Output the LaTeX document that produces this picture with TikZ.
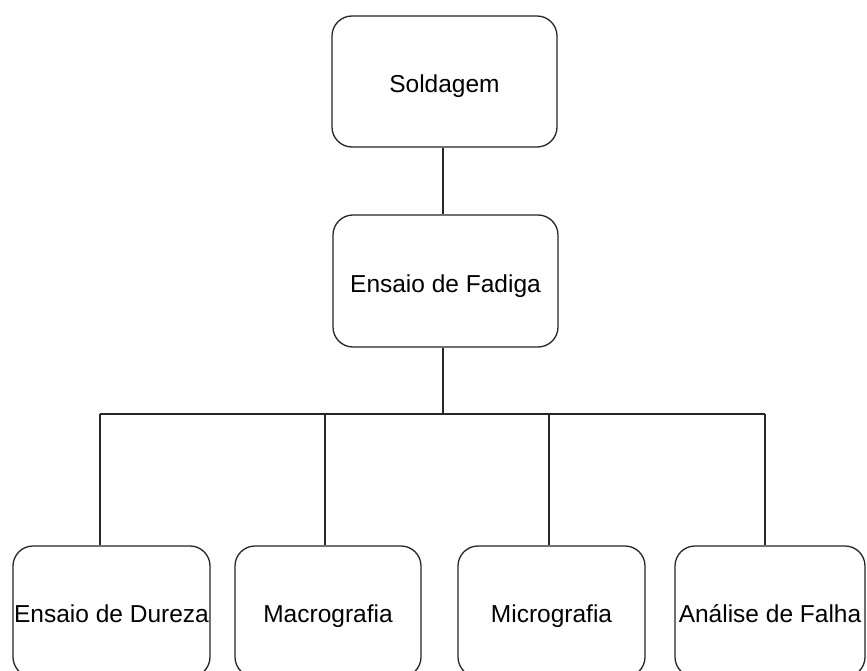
\documentclass[tikz,border=0pt]{standalone}
\usepackage{fontspec}
\setmainfont{Liberation Sans}
\begin{document}
\begin{tikzpicture}[x=1pt,y=-1pt,
  box/.style={draw=black!85, line width=1.3pt, rounded corners=20pt, inner sep=0pt, align=center, text height=22pt, text depth=0pt, font=\fontsize{24.5}{28}\selectfont},
  conn/.style={draw=black!85, line width=1.3pt}]
\clip (0,0) rectangle (867,671);
\fill[white] (0,0) rectangle (867,671);
\node[box, minimum width=225pt, minimum height=131pt] (sold) at (444.5,81.5) {Soldagem};
\node[box, minimum width=225pt, minimum height=132pt] (fad) at (445.5,281) {Ensaio de Fadiga};
\node[box, minimum width=197pt, minimum height=131pt] (dur) at (111.5,611.5) {Ensaio de Dureza};
\node[box, minimum width=186pt, minimum height=131pt] (mac) at (328,611.5) {Macrografia};
\node[box, minimum width=187pt, minimum height=131pt] (mic) at (551.5,611.5) {Micrografia};
\node[box, minimum width=190pt, minimum height=131pt] (ana) at (770,611.5) {Análise de Falha};
\coordinate (b0) at (443,414);
\coordinate (b1) at (100,414);
\coordinate (b2) at (325,414);
\coordinate (b3) at (549,414);
\coordinate (b4) at (765,414);
\draw[conn] (sold.south -| b0) -- (fad.north -| b0);
\draw[conn] (fad.south -| b0) -- (b0);
\draw[conn] (b1) -- (b4);
\draw[conn] (b1) -- (dur.north -| b1);
\draw[conn] (b2) -- (mac.north -| b2);
\draw[conn] (b3) -- (mic.north -| b3);
\draw[conn] (b4) -- (ana.north -| b4);
\end{tikzpicture}
\end{document}
